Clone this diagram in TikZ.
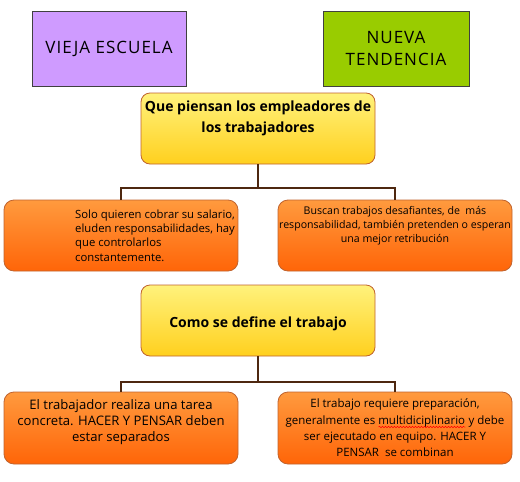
\documentclass[tikz,border=0pt]{standalone}
\usepackage{fontspec}
\setmainfont{Open Sans}
\usetikzlibrary{positioning,decorations.pathmorphing}

\definecolor{lila}{HTML}{CF9BFF}
\definecolor{verde}{HTML}{99CC00}
\definecolor{amarilloA}{HTML}{FFF27C}
\definecolor{amarilloB}{HTML}{FFD01E}
\definecolor{naranjaA}{HTML}{FF9A3E}
\definecolor{naranjaB}{HTML}{FF6508}
\definecolor{borde}{HTML}{C0632E}
\definecolor{cafe}{HTML}{4E2810}

\newcommand\ondaroja[1]{\setbox0\hbox{#1}\leavevmode\rlap{\usebox0}%
  \tikz[baseline=0pt]\draw[red, line width=0.5pt, decorate,
    decoration={snake, amplitude=0.8pt, segment length=3pt}] (0pt,-2.8pt) -- (\wd0,-2.8pt);}

\tikzset{
  titulo/.style={draw=black!75, line width=0.8pt, minimum width=#1, minimum height=75pt,
    align=center, font=\fontsize{17}{22}\selectfont\addfontfeature{LetterSpace=6}, inner sep=0pt},
  pregunta/.style={draw=borde, line width=0.8pt, rounded corners=9pt,
    top color=amarilloA, bottom color=amarilloB,
    minimum width=234pt, minimum height=71pt, inner sep=0pt},
  respuesta/.style={draw=borde, line width=0.8pt, rounded corners=10pt,
    top color=naranjaA, bottom color=naranjaB,
    minimum width=234pt, minimum height=71pt, inner sep=0pt},
  conector/.style={draw=cafe, line width=2pt},
  textopregunta/.style={align=center, font=\bfseries\fontsize{14}{21}\selectfont, inner sep=0pt},
}

\begin{document}
\begin{tikzpicture}[x=1pt,y=-1pt]
\useasboundingbox (0,0) rectangle (520,482);

% encabezados
\node[titulo=154pt, fill=lila] (vieja) at (109,49) {VIEJA ESCUELA};
\node[titulo=146pt, fill=verde] (nueva) at (396,48.5) {NUEVA\\TENDENCIA};

% primera pregunta
\node[pregunta] (preg1) at (258,128.5) {};
\node[textopregunta] (txt1) at ([yshift=10pt]preg1.center) {Que piensan los empleadores de\\los trabajadores};
\node[respuesta] (resp1a) at (121,235.5) {};
\node[respuesta] (resp1b) at (395,235.5) {};
\node[align=left, anchor=west, inner sep=0pt, font=\fontsize{11.3}{14.3}\selectfont]
  (txt1a) at ([xshift=-46pt]resp1a.center) {Solo quieren cobrar su salario,\\eluden responsabilidades, hay\\que controlarlos\\constantemente.};
\node[align=center, inner sep=0pt, font=\fontsize{10.6}{14}\selectfont]
  (txt1b) at ([yshift=10pt]resp1b.center) {Buscan trabajos desafiantes, de~ más\\responsabilidad, también pretenden o esperan\\una mejor retribución};

% segunda pregunta
\node[pregunta] (preg2) at (258,320.5) {};
\node[textopregunta] (txt2) at ([yshift=-3pt]preg2.center) {Como se define el trabajo};
\node[respuesta, minimum height=72pt] (resp2a) at (121,428) {};
\node[respuesta, minimum height=72pt] (resp2b) at (395,428) {};
\node[align=center, inner sep=0pt, font=\fontsize{13.1}{16}\selectfont]
  (txt2a) at ([yshift=6pt]resp2a.center) {El trabajador realiza una tarea\\concreta. HACER Y PENSAR deben\\estar separados};
\node[align=center, inner sep=0pt, font=\fontsize{11.5}{16.3}\selectfont]
  (txt2b) at (resp2b.center) {El trabajo requiere preparación,\\generalmente es \ondaroja{multidiciplinario} y debe\\ser ejecutado en equipo. HACER Y\\PENSAR~ se combinan};

% conectores
\draw[conector] (preg1.south) -- ++(0,24) coordinate (nudo1);
\draw[conector] (resp1a.north) |- (nudo1) -| (resp1b.north);
\draw[conector] (preg2.south) -- ++(0,26) coordinate (nudo2);
\draw[conector] (resp2a.north) |- (nudo2) -| (resp2b.north);
\end{tikzpicture}
\end{document}
